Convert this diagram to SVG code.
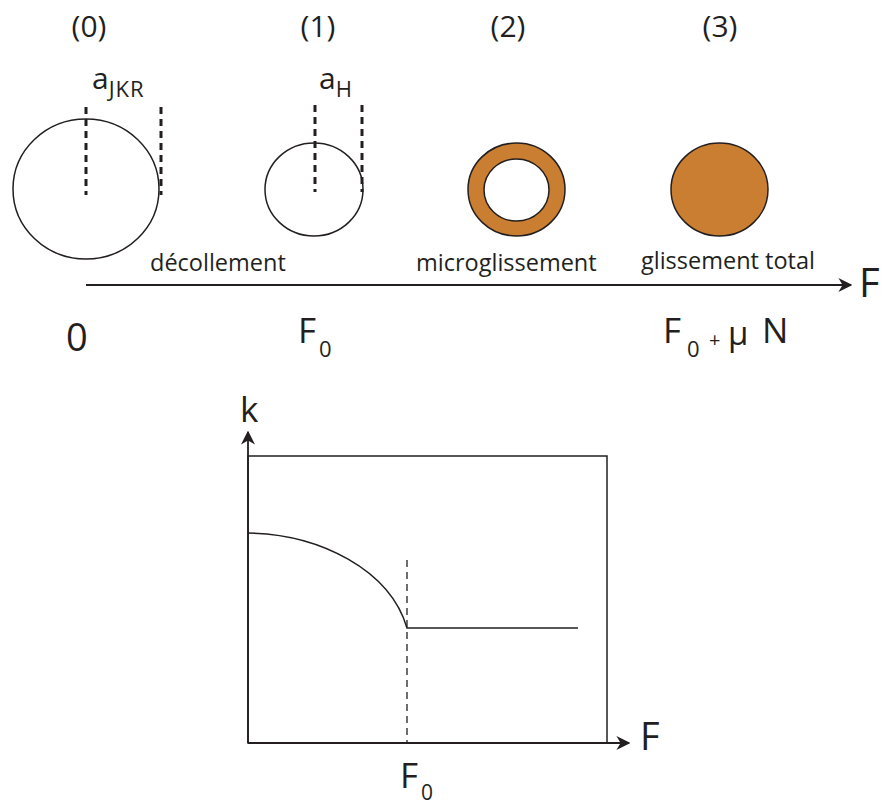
<svg xmlns="http://www.w3.org/2000/svg" width="882" height="805" viewBox="0 0 882 805">
<style>
text{font-family:"Open Sans","Liberation Sans",sans-serif;fill:#231f20}
.c{fill:none;stroke:#231f20;stroke-width:1.5}
.o{fill:#ca7e31;stroke:#231f20;stroke-width:1.5}
.d{stroke:#231f20;stroke-width:3;stroke-dasharray:7,5;fill:none}
.l{stroke:#231f20;stroke-width:1.8;fill:none}
.lab{font-size:23.5px}
.num{font-size:30px;text-anchor:middle}
</style>
<defs>
<marker id="ah2" viewBox="0 0 10 10" refX="9" refY="5" markerWidth="14" markerHeight="14" markerUnits="userSpaceOnUse" orient="auto">
<path d="M0,0 L10,5 L0,10 L3,5 Z" fill="#231f20"/>
</marker>
</defs>
<g id="state0">
<text class="num" x="89" y="37">(0)</text>
<ellipse class="c" cx="86" cy="189" rx="73" ry="70"/>
<line class="d" x1="86" y1="107" x2="86" y2="195"/>
<line class="d" x1="161" y1="107" x2="161" y2="195"/>
<text x="92" y="89" font-size="30">a<tspan font-size="22" dy="8" letter-spacing="1">JKR</tspan></text>
</g>
<g id="state1">
<text class="num" x="318" y="37">(1)</text>
<ellipse class="c" cx="314" cy="189.5" rx="49" ry="46.5"/>
<line class="d" x1="315" y1="105" x2="315" y2="192"/>
<line class="d" x1="362" y1="105" x2="362" y2="192"/>
<text x="319" y="89" font-size="30">a<tspan font-size="22" dy="8">H</tspan></text>
</g>
<g id="state2">
<text class="num" x="508" y="37">(2)</text>
<ellipse class="o" cx="516.5" cy="189.5" rx="48.5" ry="46.5"/>
<ellipse class="c" cx="516.5" cy="190" rx="32.5" ry="31" style="fill:#fff"/>
</g>
<g id="state3">
<text class="num" x="720" y="37">(3)</text>
<ellipse class="o" cx="719.5" cy="189.5" rx="48.5" ry="46.5"/>
</g>
<g id="labels">
<text class="lab" x="150" y="271">décollement</text>
<text class="lab" x="416" y="271">microglissement</text>
<text class="lab" x="641" y="269">glissement total</text>
<text x="859" y="297" font-size="40">F</text>
<text x="66" y="351" font-size="38">0</text>
<text x="298" y="343" font-size="35">F</text>
<text x="319" y="357" font-size="22">0</text>
<text x="663" y="343" font-size="35">F</text>
<text x="687" y="357" font-size="22">0</text>
<text x="709" y="347" font-size="20">+</text>
<text x="728" y="345" font-size="33">μ</text>
<text x="762" y="343" font-size="35">N</text>
</g>
<g id="connectors">
<line class="l" x1="86" y1="285" x2="851" y2="285" marker-end="url(#ah2)"/>
</g>
<g id="chart">
<rect x="248" y="456" width="359" height="287" class="l" style="stroke-width:1.5"/>
<line class="l" x1="248" y1="743" x2="248" y2="432" marker-end="url(#ah2)"/>
<line class="l" x1="248" y1="743" x2="629" y2="743" marker-end="url(#ah2)"/>
<path class="l" style="stroke-width:1.5" d="M248,533 C320,534 390,570 407,628 L578,628"/>
<line x1="407" y1="560" x2="407" y2="743" stroke="#231f20" stroke-width="1.3" stroke-dasharray="7,5"/>
<text x="240" y="422" font-size="35">k</text>
<text x="640" y="750" font-size="38">F</text>
<text x="400" y="788" font-size="35">F</text>
<text x="421" y="800" font-size="21">0</text>
</g>
</svg>
